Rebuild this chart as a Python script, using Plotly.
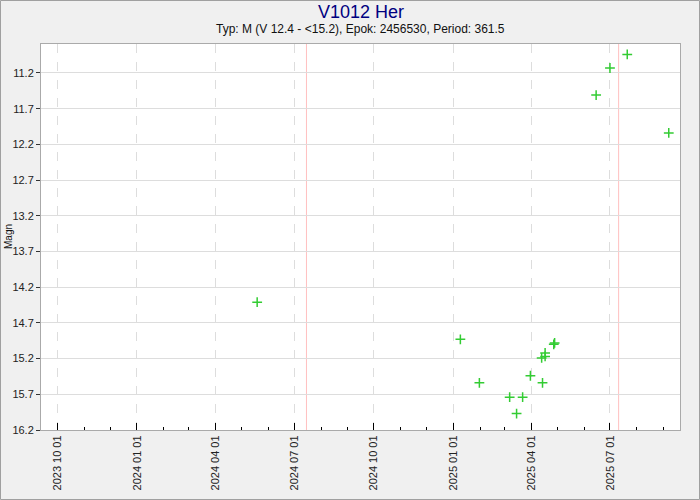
import plotly.graph_objects as go

# Observations (date, magnitude)
obs_dates = ["2024-05-19", "2025-01-09", "2025-01-31", "2025-03-07", "2025-03-22",
             "2025-03-15", "2025-03-31", "2025-04-14", "2025-04-13", "2025-04-17",
             "2025-04-17", "2025-04-27", "2025-04-28", "2025-06-15", "2025-07-01",
             "2025-07-21", "2025-09-07"]
obs_mags = [14.41, 14.93, 15.54, 15.74, 15.74,
            15.97, 15.44, 15.54, 15.19, 15.12,
            15.17, 15.0, 14.98, 11.51, 11.13,
            10.94, 12.04]

# Predicted maxima (Epok 2456530 + n * 361.5)
max_dates = ["2024-07-15", "2025-07-11"]

y_ticks = [11.2, 11.7, 12.2, 12.7, 13.2, 13.7, 14.2, 14.7, 15.2, 15.7, 16.2]
x_ticks = ["2023-10-01", "2024-01-01", "2024-04-01", "2024-07-01",
           "2024-10-01", "2025-01-01", "2025-04-01", "2025-07-01"]

title_text = "V1012 Her"
subtitle_text = "Typ: M (V 12.4 - <15.2), Epok: 2456530, Period: 361.5"

fig = go.Figure()
fig.add_trace(go.Scatter(
    x=obs_dates, y=obs_mags, mode="markers",
    marker=dict(symbol="cross-thin", size=7, line=dict(color="#33cc33", width=1.5)),
    hoverinfo="x+y", showlegend=False))

shapes = []
for d in max_dates:
    shapes.append(dict(type="line", xref="x", yref="paper", x0=d, x1=d, y0=0, y1=1,
                       line=dict(color="#ffc0c0", width=1), layer="below"))
W, H = 700, 500
ml, mr, mt, mb = 41, 20, 44, 70
pw, ph = W - ml - mr, H - mt - mb
shapes.append(dict(type="rect", xref="paper", yref="paper",
                   x0=-(ml - 0.5) / pw, x1=(pw + mr - 0.5) / pw,
                   y0=-(mb - 0.5) / ph, y1=(ph + mt - 0.5) / ph,
                   line=dict(color="#a0a0a0", width=1)))

fig.update_layout(
    width=W, height=H,
    margin=dict(l=ml, r=mr, t=mt, b=mb, autoexpand=False),
    paper_bgcolor="#f0f0f0", plot_bgcolor="#ffffff",
    font=dict(family="Liberation Sans, Arial, sans-serif", size=11, color="#222222"),
    shapes=shapes,
    annotations=[
        dict(text=title_text, x=0.5, y=(ph + 32) / ph, xref="paper", yref="paper",
             showarrow=False, font=dict(size=18, color="#000080"), yanchor="middle"),
        dict(text=subtitle_text, x=0.5, y=(ph + 15) / ph, xref="paper", yref="paper",
             showarrow=False, font=dict(size=12, color="#111111"), yanchor="middle"),
        dict(text="Magn", x=-33 / pw, y=0.5, xref="paper", yref="paper", textangle=-90,
             showarrow=False, font=dict(size=10, color="#111111"), xanchor="center"),
    ],
    xaxis=dict(
        type="date", range=["2023-09-12", "2025-09-20"], automargin=False,
        tickvals=x_ticks, tickformat="%Y %m %d", tickangle=-90,
        ticks="inside", ticklen=7, tickcolor="#000000",
        showgrid=True, gridcolor="#dddddd", griddash="dash", gridwidth=1,
        minor=dict(dtick="M1", ticks="inside", ticklen=3, tickcolor="#000000", showgrid=False),
        showline=True, linecolor="#aaaaaa", mirror=True, zeroline=False,
        tickfont=dict(size=11),
    ),
    yaxis=dict(
        range=[16.2, 10.794], tickvals=y_ticks, automargin=False,
        ticktext=[f"{v:.1f}" for v in y_ticks],
        ticks="outside", ticklen=4, tickcolor="#333333",
        showgrid=True, gridcolor="#dddddd", gridwidth=1,
        showline=True, linecolor="#aaaaaa", mirror=True, zeroline=False,
        tickfont=dict(size=11),
    ),
)

fig.write_html("out.html", config={"displayModeBar": False},
               post_script="document.body.style.margin='0';")
